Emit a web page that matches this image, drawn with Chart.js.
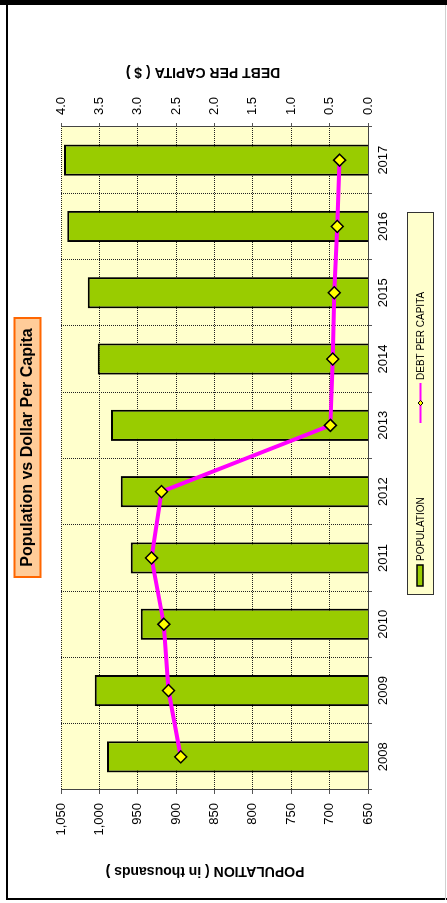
<!DOCTYPE html>
<html>
<head>
<meta charset="utf-8">
<title>Population vs Dollar Per Capita</title>
<script src="https://cdn.jsdelivr.net/npm/chart.js@4.4.1/dist/chart.umd.min.js"></script>
<style>
  html, body { margin: 0; padding: 0; background: #fff; overflow: hidden; }
  /* the chart is laid out landscape, then turned a quarter to the left */
  #stage { position: absolute; left: 0; top: 903px; width: 903px; height: 447px;
           transform-origin: 0 0; transform: rotate(-90deg); }
</style>
</head>
<body>
<div id="stage"><canvas id="chart" width="903" height="447"></canvas></div>
<script>
const years = ['2008', '2009', '2010', '2011', '2012', '2013', '2014', '2015', '2016', '2017'];
const population = [990, 1006, 946, 959, 972, 985, 1002, 1015, 1042, 1046];
const debtPerCapita = [2.44, 2.60, 2.66, 2.82, 2.69, 0.49, 0.46, 0.44, 0.40, 0.37];
const populationRange = [650, 1050];
const populationStep = 50;
const debtRange = [0, 4];
const debtStep = 0.5;
const seriesNames = ['POPULATION', 'DEBT PER CAPITA'];
const chartTitle = 'Population vs Dollar Per Capita';
const populationTitle = 'POPULATION ( in thousands )';
const debtTitle = 'DEBT PER CAPITA ( $ )';

const FONT = 'Arial, "Liberation Sans", sans-serif';
Chart.defaults.font.family = FONT;
Chart.defaults.color = '#000';

// Background, frame, title box, axis titles and legend
const decor = {
    id: 'decor',
    beforeDraw(chart) {
        const { ctx, width, height, chartArea: a } = chart;
        ctx.save();
        ctx.fillStyle = '#fff';
        ctx.fillRect(0, 0, width, height);
        ctx.fillStyle = '#ffffcc';
        ctx.fillRect(a.left, a.top, a.right - a.left, a.bottom - a.top);
        ctx.restore();
    },
    afterDraw(chart) {
        const { ctx } = chart;
        ctx.save();

        // outer frame
        ctx.fillStyle = '#000';
        ctx.fillRect(898, 0, 5, 447);
        ctx.fillRect(3, 6, 895, 2);
        ctx.fillRect(3, 6, 2, 441);
        ctx.fillStyle = '#d0d0d0';
        ctx.fillRect(3, 445, 895, 1);

        // title box
        ctx.fillStyle = '#ffcc99';
        ctx.fillRect(326, 14.5, 259, 26);
        ctx.strokeStyle = '#ff6600';
        ctx.lineWidth = 2;
        ctx.strokeRect(326, 14.5, 259, 26);
        ctx.fillStyle = '#000';
        ctx.font = 'bold 16px ' + FONT;
        ctx.textAlign = 'center';
        ctx.textBaseline = 'middle';
        ctx.fillText(chartTitle, 455.5, 28);

        // axis titles, both turned the same way
        ctx.font = 'bold 14px ' + FONT;
        [[populationTitle, 32, 205], [debtTitle, 831, 203]].forEach(([t, x, y]) => {
            ctx.save();
            ctx.translate(x, y);
            ctx.rotate(-Math.PI / 2);
            ctx.fillText(t, 0, 0);
            ctx.restore();
        });

        // legend
        ctx.fillStyle = '#ffffcc';
        ctx.fillRect(308.5, 407.5, 382, 26);
        ctx.strokeStyle = '#333';
        ctx.lineWidth = 1;
        ctx.strokeRect(308.5, 407.5, 382, 26);

        ctx.fillStyle = '#99cc00';
        ctx.fillRect(317, 417, 21, 6);
        ctx.strokeStyle = '#000';
        ctx.lineWidth = 1.5;
        ctx.strokeRect(317, 417, 21, 6);

        ctx.strokeStyle = '#ff00ff';
        ctx.lineWidth = 2;
        ctx.beginPath();
        ctx.moveTo(480, 420.5);
        ctx.lineTo(520, 420.5);
        ctx.stroke();
        ctx.fillStyle = '#ffff00';
        ctx.strokeStyle = '#000';
        ctx.lineWidth = 1;
        ctx.beginPath();
        ctx.moveTo(500, 418);
        ctx.lineTo(502.5, 420.5);
        ctx.lineTo(500, 423);
        ctx.lineTo(497.5, 420.5);
        ctx.closePath();
        ctx.fill();
        ctx.stroke();

        ctx.fillStyle = '#000';
        ctx.font = '10px ' + FONT;
        ctx.textAlign = 'left';
        ctx.fillText(seriesNames[0], 342, 421);
        ctx.fillText(seriesNames[1], 523, 421);

        ctx.restore();
    }
};

const gridLines = {
    color: '#222',
    lineWidth: 1,
    tickLength: 4,
    tickColor: '#555',
    tickBorderDash: []
};

new Chart(document.getElementById('chart'), {
    data: {
        labels: years,
        datasets: [{
            type: 'bar',
            label: seriesNames[0],
            data: population,
            yAxisID: 'y',
            backgroundColor: '#99cc00',
            borderColor: '#000',
            borderWidth: 2,
            borderSkipped: false,
            barPercentage: 0.47,
            categoryPercentage: 1,
            order: 2
        }, {
            type: 'line',
            label: seriesNames[1],
            data: debtPerCapita,
            yAxisID: 'y2',
            borderColor: '#ff00ff',
            borderWidth: 4,
            tension: 0,
            pointStyle: 'rectRot',
            pointRadius: 6,
            pointHoverRadius: 6,
            pointBackgroundColor: '#ffff00',
            pointBorderColor: '#000',
            pointBorderWidth: 1.5,
            order: 1
        }]
    },
    options: {
        responsive: false,
        animation: false,
        layout: { padding: { top: 61, left: 0, right: 0, bottom: 0 } },
        plugins: {
            legend: { display: false },
            title: { display: false },
            tooltip: { enabled: false }
        },
        scales: {
            x: {
                type: 'category',
                offset: true,
                grid: { ...gridLines, offset: true },
                border: { color: '#444', width: 1, dash: [1, 1] },
                ticks: { font: { size: 13 }, padding: 4, maxRotation: 0 },
                afterFit(scale) { scale.height = 79; }
            },
            y: {
                position: 'left',
                min: populationRange[0],
                max: populationRange[1],
                grid: gridLines,
                border: { color: '#444', width: 1, dash: [1, 1] },
                ticks: { stepSize: populationStep, font: { size: 13 }, padding: 9 },
                afterFit(scale) { scale.width = 113; }
            },
            y2: {
                position: 'right',
                min: debtRange[0],
                max: debtRange[1],
                grid: { ...gridLines, drawOnChartArea: false },
                border: { color: '#444', width: 1 },
                ticks: {
                    stepSize: debtStep,
                    font: { size: 13 },
                    padding: 8,
                    callback: v => v.toFixed(1)
                },
                afterFit(scale) { scale.width = 127; }
            }
        }
    },
    plugins: [decor]
});
</script>
</body>
</html>
